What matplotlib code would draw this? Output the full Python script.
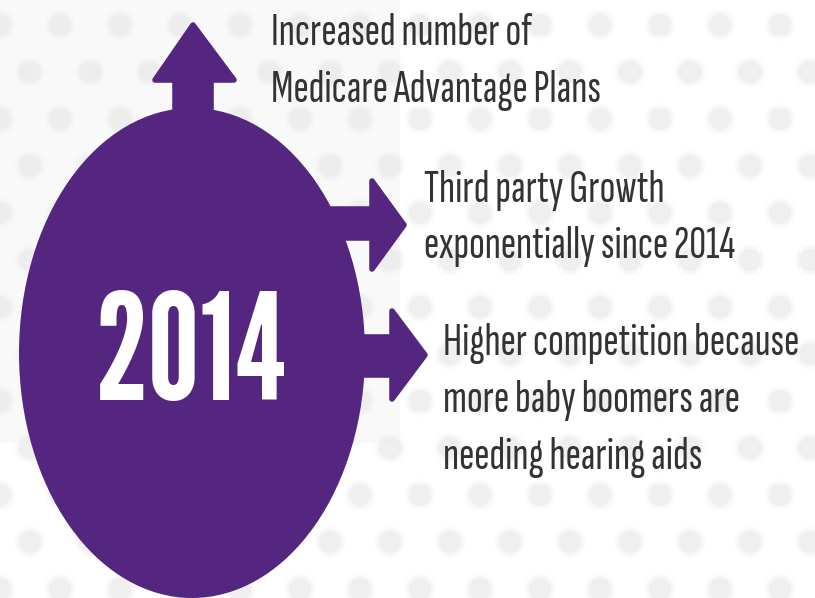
import matplotlib
matplotlib.use("Agg")
import matplotlib.pyplot as plt
from matplotlib.patches import Ellipse, Polygon, Circle, Rectangle
import numpy as np

# ---- content ----
year_label = "2014"
point_1 = ["Increased number of", "Medicare Advantage Plans"]
point_2 = ["Third party Growth", "exponentially since 2014"]
point_3 = ["Higher competition because", "more baby boomers are", "needing hearing aids"]

PURPLE = "#55267f"
TEXT = "#333333"
DOT = "#e9e9e9"

W, H = 815, 598
fig = plt.figure(figsize=(W / 100, H / 100), dpi=100)
ax = fig.add_axes([0, 0, 1, 1])
ax.set_xlim(0, W)
ax.set_ylim(H, 0)
ax.axis("off")
fig.patch.set_facecolor("white")

# ---- faint background panel + blurred dots (decoration) ----
ax.add_patch(Rectangle((0, 0), 400, 443, facecolor="#f9f9f9", edgecolor="none", zorder=0))
rows = np.arange(25, H + 40, 47)
for i, yy in enumerate(rows):
    off = 0 if i % 2 == 0 else 30
    for xx in np.arange(off, W + 40, 60):
        for r, a in [(16, 0.12), (13.5, 0.25), (11, 0.5)]:
            ax.add_patch(Circle((xx, yy), r, facecolor=DOT, edgecolor="none",
                                alpha=a, zorder=1))

# ---- purple shape ----
ax.add_patch(Ellipse((192, 353), 346, 490, facecolor=PURPLE, edgecolor="none", zorder=3))

def arrow(pts):
    ax.add_patch(Polygon(pts, closed=True, facecolor=PURPLE, edgecolor=PURPLE,
                         linewidth=4, joinstyle="round", zorder=3))

# up arrow
arrow([(175, 140), (175, 80), (155, 80), (193, 25), (234, 80), (211, 80), (211, 140)])
# right arrow 1
arrow([(320, 209), (372, 209), (372, 181), (404, 225), (372, 269), (372, 238), (320, 238)])
# right arrow 2
arrow([(330, 337), (392, 337), (392, 311), (425, 355), (392, 399), (392, 375), (330, 375)])

# ---- year ----
ax.text(191, 400, year_label, color="white", fontsize=106, family="League Gothic",
        ha="center", va="baseline", zorder=5)

# ---- descriptive text ----
kw = dict(color=TEXT, fontsize=33.5, family=["Sofia Sans Extra Condensed", "DejaVu Sans"],
          fontweight="light", ha="left", va="baseline", zorder=5)
for k, line in enumerate(point_1):
    ax.text(271, 45 + 57 * k, line, **kw)
for k, line in enumerate(point_2):
    ax.text(424, 202 + 56 * k, line, **kw)
for k, line in enumerate(point_3):
    ax.text(443, 355 + 57 * k, line, **kw)

fig.savefig("out.png", dpi=100)
